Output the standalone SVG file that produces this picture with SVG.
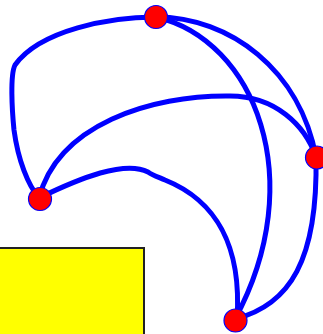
<svg xmlns="http://www.w3.org/2000/svg" width="323" height="334" viewBox="0 0 323 334">
<style>
.edge{fill:none;stroke:#0000ff;stroke-width:5;stroke-linecap:round;stroke-linejoin:round}
.node{fill:#ff0000;stroke:#0000ff;stroke-width:1.2}
</style>
<rect x="-3" y="248" width="147" height="100" fill="#ffff00" stroke="#222" stroke-width="2"/>
<g id="connectors">
<path class="edge" d="M156,17 C110,17 40,30 15,65 C10,75 12,110 14,130 C18,160 28,185 39,198"/>
<path class="edge" d="M156,17 C230,17 300,70 316,157"/>
<path class="edge" d="M156,17 C255,40 310,180 235,319"/>
<path class="edge" d="M39,198 C58,125 150,95 230,96 C275,96 305,125 316,157"/>
<path class="edge" d="M39,198 C80,178 125,160 148,172 C152,175 158,177 165,180 C215,200 242,245 237,319"/>
<path class="edge" d="M316,157 C318,260 290,305 235,319"/>
</g>
<g id="node-a"><circle class="node" cx="156" cy="17" r="11.5"/></g>
<g id="node-b"><circle class="node" cx="317" cy="157.5" r="11.5"/></g>
<g id="node-c"><circle class="node" cx="40" cy="199" r="11.5"/></g>
<g id="node-d"><circle class="node" cx="235.5" cy="320.5" r="11.5"/></g>
</svg>
